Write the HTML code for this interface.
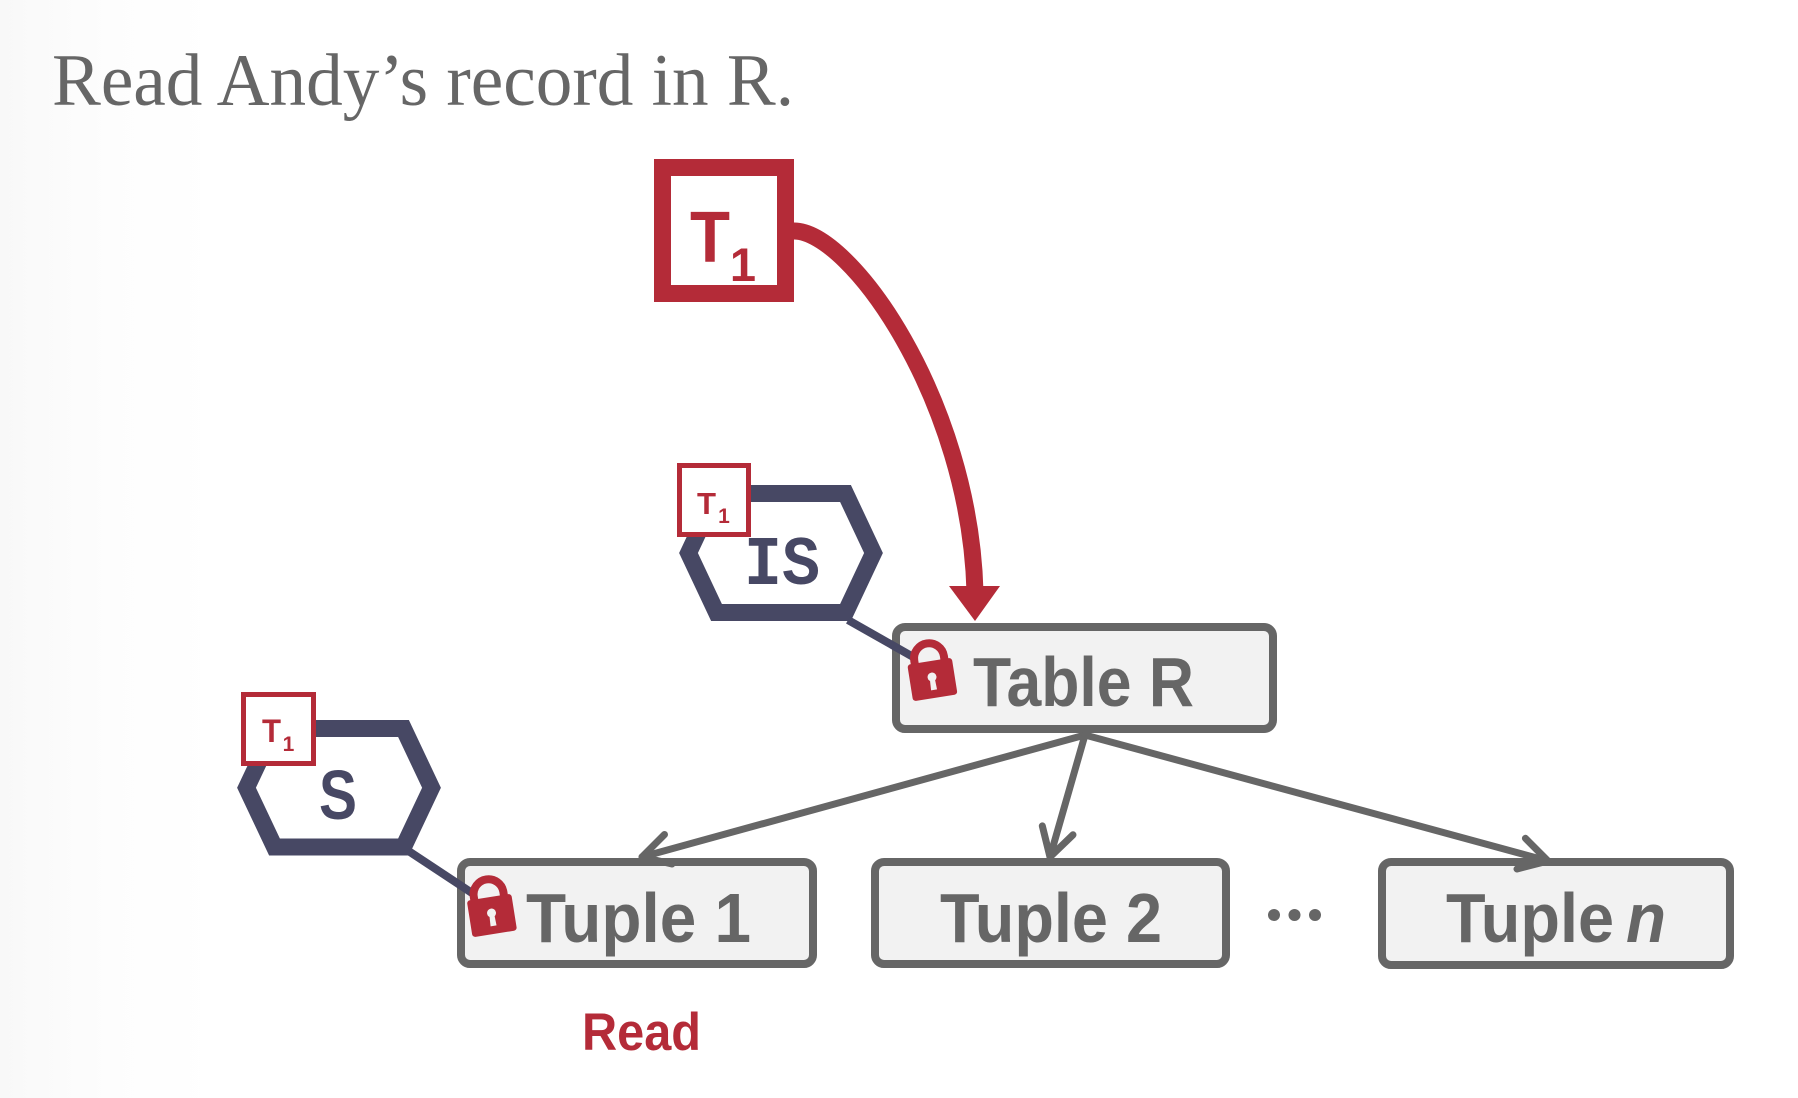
<!DOCTYPE html>
<html>
<head>
<meta charset="utf-8">
<style>
  html, body { margin: 0; padding: 0; background: #ffffff; }
  body { width: 1798px; height: 1098px; overflow: hidden; }
  svg { display: block; }
</style>
</head>
<body>
<svg width="1798" height="1098" viewBox="0 0 1798 1098" xmlns="http://www.w3.org/2000/svg">
  <defs>
    <linearGradient id="bg" x1="0" y1="0" x2="1" y2="0">
      <stop offset="0" stop-color="#f8f8f8"/>
      <stop offset="0.02" stop-color="#fafafa"/>
      <stop offset="0.06" stop-color="#fdfdfd"/>
      <stop offset="0.12" stop-color="#ffffff"/>
      <stop offset="1" stop-color="#ffffff"/>
    </linearGradient>
  </defs>
  <rect x="0" y="0" width="1798" height="1098" fill="url(#bg)"/>

  <!-- Title -->
  <text x="52" y="105" font-family="'Liberation Serif', serif" font-size="74" fill="#666666" textLength="742" lengthAdjust="spacingAndGlyphs">Read Andy’s record in R.</text>

  <!-- Big T1 box -->
  <rect x="662.5" y="167.5" width="123" height="126" fill="#ffffff" stroke="#b42b38" stroke-width="17"/>
  <text x="690" y="262" font-family="'Liberation Sans', sans-serif" font-weight="bold" font-size="72" fill="#b42b38" textLength="40" lengthAdjust="spacingAndGlyphs">T</text>
  <text x="743" y="281" text-anchor="middle" font-family="'Liberation Sans', sans-serif" font-weight="bold" font-size="47" fill="#b42b38">1</text>

  <!-- Red curved arrow -->
  <path d="M794,231 C850,231 970,400 975,592" fill="none" stroke="#b42b38" stroke-width="17"/>
  <polygon points="949,586 1000,586 975,621" fill="#b42b38"/>

  <!-- IS hexagon -->
  <polygon points="716.5,493.5 845.5,493.5 873.5,553 845.5,612.5 716.5,612.5 688.5,553" fill="#ffffff" stroke="#474864" stroke-width="17" stroke-linejoin="miter"/>
  <text x="744" y="584" font-family="'Liberation Mono', monospace" font-weight="bold" font-size="70" fill="#474864" textLength="76" lengthAdjust="spacingAndGlyphs">IS</text>
  <rect x="679.5" y="465.5" width="69" height="69" fill="#ffffff" stroke="#b42b38" stroke-width="5"/>
  <text x="697" y="514" font-family="'Liberation Sans', sans-serif" font-weight="bold" font-size="31" fill="#b42b38" textLength="19" lengthAdjust="spacingAndGlyphs">T</text>
  <text x="724" y="523" text-anchor="middle" font-family="'Liberation Sans', sans-serif" font-weight="bold" font-size="21" fill="#b42b38">1</text>

  <!-- S hexagon -->
  <polygon points="274.5,728.5 403.5,728.5 431.5,787.75 403.5,847 274.5,847 246.5,787.75" fill="#ffffff" stroke="#474864" stroke-width="17" stroke-linejoin="miter"/>
  <text x="319" y="819" font-family="'Liberation Sans', sans-serif" font-weight="bold" font-size="70" fill="#474864" textLength="38" lengthAdjust="spacingAndGlyphs">S</text>
  <rect x="243.5" y="694.5" width="70" height="69" fill="#ffffff" stroke="#b42b38" stroke-width="5"/>
  <text x="262" y="742" font-family="'Liberation Sans', sans-serif" font-weight="bold" font-size="32" fill="#b42b38" textLength="19" lengthAdjust="spacingAndGlyphs">T</text>
  <text x="288.5" y="751" text-anchor="middle" font-family="'Liberation Sans', sans-serif" font-weight="bold" font-size="21" fill="#b42b38">1</text>

  <!-- Table R box -->
  <rect x="896" y="627" width="377" height="102" rx="9" ry="9" fill="#f2f2f2" stroke="#666666" stroke-width="8"/>
  <text x="973" y="706" font-family="'Liberation Sans', sans-serif" font-weight="bold" font-size="70" fill="#666666" textLength="221" lengthAdjust="spacingAndGlyphs">Table R</text>

  <!-- Tuple boxes -->
  <rect x="461" y="862" width="352" height="102" rx="9" ry="9" fill="#f2f2f2" stroke="#666666" stroke-width="8"/>
  <text x="526" y="942" font-family="'Liberation Sans', sans-serif" font-weight="bold" font-size="70" fill="#666666" textLength="225" lengthAdjust="spacingAndGlyphs">Tuple 1</text>

  <rect x="875" y="862" width="351" height="102" rx="9" ry="9" fill="#f2f2f2" stroke="#666666" stroke-width="8"/>
  <text x="940" y="942" font-family="'Liberation Sans', sans-serif" font-weight="bold" font-size="70" fill="#666666" textLength="222" lengthAdjust="spacingAndGlyphs">Tuple 2</text>

  <rect x="1382" y="862" width="348" height="103" rx="9" ry="9" fill="#f2f2f2" stroke="#666666" stroke-width="8"/>
  <text x="1446" y="942" font-family="'Liberation Sans', sans-serif" font-weight="bold" font-size="70" fill="#666666" textLength="168" lengthAdjust="spacingAndGlyphs">Tuple</text>
  <text x="1626" y="942" font-family="'Liberation Sans', sans-serif" font-weight="bold" font-style="italic" font-size="70" fill="#666666" textLength="40" lengthAdjust="spacingAndGlyphs">n</text>

  <!-- Dots -->
  <circle cx="1274" cy="915" r="6" fill="#666666"/>
  <circle cx="1294.5" cy="915" r="6" fill="#666666"/>
  <circle cx="1315" cy="915" r="6" fill="#666666"/>

  <!-- Gray arrows -->
  <g stroke="#666666" stroke-width="7" stroke-linecap="round" stroke-linejoin="round" fill="none">
    <line x1="1085" y1="735" x2="642" y2="857"/>
    <polyline points="664.5,834.5 642,857 672,864"/>
    <line x1="1085" y1="735" x2="1050" y2="857"/>
    <polyline points="1042.3,825.9 1050,857 1073,834.8"/>
    <line x1="1085" y1="735" x2="1548" y2="861"/>
    <polyline points="1525.4,838.3 1548,861 1517,869"/>
  </g>

  <!-- Dark connectors -->
  <line x1="848" y1="620" x2="915" y2="658" stroke="#474864" stroke-width="8"/>
  <line x1="407" y1="850" x2="472" y2="893" stroke="#474864" stroke-width="8"/>

  <!-- Locks -->
  <g transform="translate(932.5,680) rotate(-9)">
    <path d="M -15,-16 L -15,-22 A 15 15 0 0 1 15,-22 L 15,-16" fill="none" stroke="#b42b38" stroke-width="8"/>
    <rect x="-22.5" y="-19" width="45" height="37" rx="3" ry="3" fill="#b42b38"/>
    <circle cx="0" cy="-3" r="4.5" fill="#f2f2f2"/>
    <path d="M -2.5,-1 L 2.5,-1 L 3,10 L -3,10 Z" fill="#f2f2f2"/>
  </g>
  <g transform="translate(492,916) rotate(-9)">
    <path d="M -15,-16 L -15,-22 A 15 15 0 0 1 15,-22 L 15,-16" fill="none" stroke="#b42b38" stroke-width="8"/>
    <rect x="-22.5" y="-19" width="45" height="37" rx="3" ry="3" fill="#b42b38"/>
    <circle cx="0" cy="-3" r="4.5" fill="#f2f2f2"/>
    <path d="M -2.5,-1 L 2.5,-1 L 3,10 L -3,10 Z" fill="#f2f2f2"/>
  </g>

  <!-- Read label -->
  <text x="582" y="1050" font-family="'Liberation Sans', sans-serif" font-weight="bold" font-size="53" fill="#b42b38" textLength="119" lengthAdjust="spacingAndGlyphs">Read</text>
</svg>
</body>
</html>
